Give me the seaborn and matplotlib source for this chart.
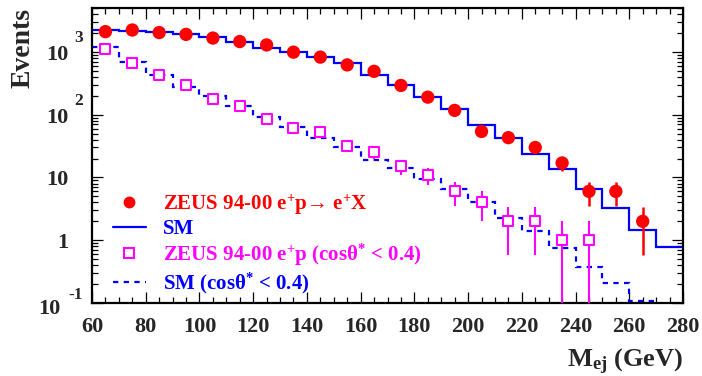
import numpy as np
import matplotlib
matplotlib.use("Agg")
import matplotlib.pyplot as plt
from matplotlib.lines import Line2D
from matplotlib.ticker import MultipleLocator, LogLocator, NullFormatter
import seaborn as sns
import pandas as pd

# ---------------- data ----------------
mass_all = [65, 75, 85, 95, 105, 115, 125, 135, 145, 155, 165, 175, 185, 195,
            205, 215, 225, 235, 245, 255, 265]
events_all = [2100, 2230, 2030, 1900, 1660, 1460, 1290, 990, 825, 620, 490,
              292, 190, 117, 54, 43, 30, 17, 6, 6, 2]

sm_edges = [60, 70, 80, 90, 100, 110, 120, 130, 140, 150, 160, 170, 180, 190,
            200, 210, 220, 230, 240, 250, 260, 270, 280]
sm_all = [2250, 2180, 2060, 1900, 1710, 1440, 1170, 1000, 825, 660, 430, 292,
          189, 123, 69, 42, 24, 13.4, 6.6, 3.3, 1.44, 0.77]

mass_cut = [65, 75, 85, 95, 105, 115, 125, 135, 145, 155, 165, 175, 185, 195,
            205, 215, 225, 235, 245]
events_cut = [1110, 660, 435, 300, 177, 135, 86, 62, 52, 32, 25, 15, 11, 6, 4,
              2, 2, 1, 1]

sm_cut_edges = [60, 70, 80, 90, 100, 110, 120, 130, 140, 150, 160, 170, 180,
                190, 200, 210, 220, 230, 240, 250, 260, 270]
sm_cut = [1200, 680, 435, 280, 195, 135, 92, 64, 42, 30, 19, 14.3, 9.3, 6.6,
          4.0, 2.3, 1.4, 0.74, 0.38, 0.21, 0.107]

x_ticks = [60, 80, 100, 120, 140, 160, 180, 200, 220, 240, 260, 280]

labels = ["ZEUS 94-00 e$^{+}$p\u2192 e$^{+}$X",
          "SM",
          "ZEUS 94-00 e$^{+}$p (cos\u03b8$^{*}$ < 0.4)",
          "SM (cos\u03b8$^{*}$ < 0.4)"]

RED = "#ff0000"
BLUE = "#0000ff"
MAG = "#ff00ff"

# ---------------- style ----------------
sns.set_theme(style="ticks")
plt.rcParams["font.family"] = ["Liberation Serif", "DejaVu Serif"]
plt.rcParams["font.weight"] = "bold"
plt.rcParams["mathtext.fontset"] = "custom"
plt.rcParams["mathtext.rm"] = "Liberation Serif:bold"
plt.rcParams["mathtext.it"] = "Liberation Serif:bold"
plt.rcParams["mathtext.bf"] = "Liberation Serif:bold"
plt.rcParams["mathtext.default"] = "rm"

fig = plt.figure(figsize=(7.02, 3.76), dpi=100)
ax = fig.add_axes([92 / 702, 1 - 303 / 376, 591 / 702, 295 / 376])

# SM histograms
ax.stairs(sm_all, sm_edges, color=BLUE, lw=1.6, baseline=None, zorder=2)
ax.stairs(sm_cut, sm_cut_edges, color=BLUE, lw=1.6, baseline=None,
          linestyle=(0, (2.4, 2.4)), zorder=2)

# data with sqrt(N) errors
df_all = pd.DataFrame({"m": mass_all, "n": events_all})
df_cut = pd.DataFrame({"m": mass_cut, "n": events_cut})

err_all = np.sqrt(df_all["n"].values)
err_cut = np.sqrt(df_cut["n"].values)
ax.errorbar(df_all["m"], df_all["n"], yerr=err_all, fmt="none",
            ecolor=RED, elinewidth=1.8, capsize=0, zorder=3)
ax.errorbar(df_cut["m"], df_cut["n"], yerr=err_cut, fmt="none",
            ecolor=MAG, elinewidth=1.5, capsize=0, zorder=3)

sns.scatterplot(data=df_all, x="m", y="n", ax=ax, color=RED, marker="o",
                s=92, edgecolor="none", zorder=4, legend=False)
sns.scatterplot(data=df_cut, x="m", y="n", ax=ax, marker="s", s=46,
                facecolor="white", edgecolor=MAG, linewidth=1.5, zorder=4,
                legend=False)

# axes
ax.set_yscale("log")
ax.set_xlim(60, 280)
ax.set_ylim(0.1, 5000)
ax.xaxis.set_major_locator(MultipleLocator(20))
ax.xaxis.set_minor_locator(MultipleLocator(5))
ax.set_xticks(x_ticks)
ax.set_xticklabels([str(t) for t in x_ticks])
ax.yaxis.set_major_locator(LogLocator(base=10, numticks=10))
ax.yaxis.set_minor_locator(LogLocator(base=10, subs=np.arange(2, 10), numticks=20))
ax.yaxis.set_major_formatter(NullFormatter())
ax.yaxis.set_minor_formatter(NullFormatter())

for s in ax.spines.values():
    s.set_linewidth(1.6)
    s.set_color("black")
ax.tick_params(which="both", direction="in", top=True, right=True,
               color="black", width=0.9)
ax.tick_params(which="major", length=8)
ax.tick_params(which="minor", length=4)
ax.tick_params(axis="x", which="major", labelsize=16, pad=10)
for t in ax.get_xticklabels():
    t.set_fontweight("bold")

# y tick labels (ROOT style, 10 with raised exponent)
ylab = [(1000, "10", "3"), (100, "10", "2"), (10, "10", None),
        (1, "1", None)]
for yv, base, ex in ylab:
    ax.annotate(base, xy=(0, yv), xycoords=("axes fraction", "data"),
                xytext=(-24, -3), textcoords="offset pixels", ha="right",
                va="center", fontsize=16, fontweight="bold")
    if ex:
        ax.annotate(ex, xy=(0, yv), xycoords=("axes fraction", "data"),
                    xytext=(-18, 14), textcoords="offset pixels", ha="left",
                    va="center", fontsize=12.5, fontweight="bold")
ax.annotate("10", xy=(0, 0.1), xycoords=("axes fraction", "data"),
            xytext=(-32, -6), textcoords="offset pixels", ha="right",
            va="center", fontsize=16, fontweight="bold")
ax.annotate("-1", xy=(0, 0.1), xycoords=("axes fraction", "data"),
            xytext=(-24, 8), textcoords="offset pixels", ha="left",
            va="center", fontsize=12.5, fontweight="bold")

ax.set_xlabel("M$_{ej}$ (GeV)", fontsize=19, fontweight="bold", loc="right")
ax.xaxis.set_label_coords(1.0, -0.15)
ax.set_ylabel("Events", fontsize=20, fontweight="bold", loc="top")
ax.yaxis.set_label_coords(-0.095, 1.0)

# legend
handles = [
    Line2D([], [], color=RED, marker="o", linestyle="none", markersize=7.5),
    Line2D([], [], color=BLUE, lw=1.6),
    Line2D([], [], color=MAG, marker="s", linestyle="none", markersize=6.5,
           markerfacecolor="white", markeredgewidth=1.5),
    Line2D([], [], color=BLUE, lw=1.6, linestyle=(0, (2.4, 2.4))),
]
leg = ax.legend(handles, labels, loc="upper left", bbox_to_anchor=(0.036, 0.375),
                frameon=False, handlelength=1.55,
                handletextpad=0.85, labelspacing=0.12, borderpad=0,
                borderaxespad=0,
                labelcolor=[RED, BLUE, MAG, BLUE],
                prop={"weight": "bold", "size": 15})

fig.savefig("out.png", dpi=100)
